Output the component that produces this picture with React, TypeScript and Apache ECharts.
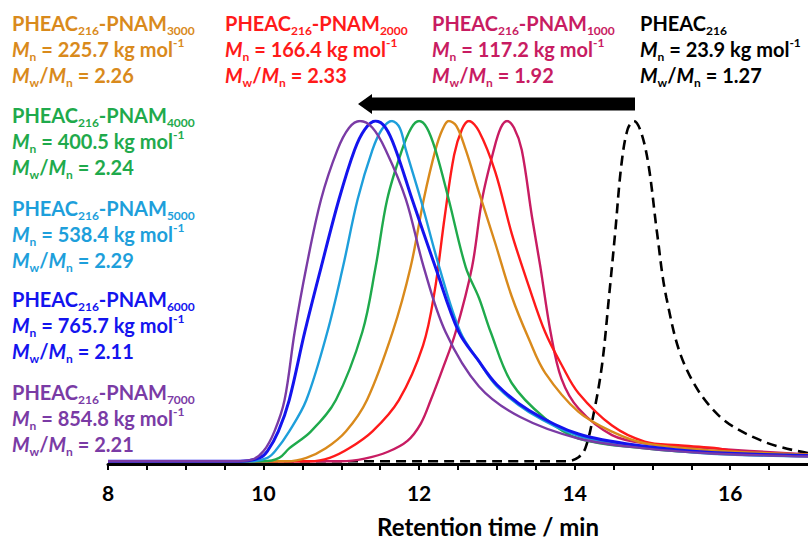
import React, { useEffect, useRef } from 'react';
import * as echarts from 'echarts';

const FONT = 'Lato, "Open Sans", sans-serif';

// ---- label data ----
const sampleDP = ['', '1000', '2000', '3000', '4000', '5000', '6000', '7000'];
const mnValues = ['23.9', '117.2', '166.4', '225.7', '400.5', '538.4', '765.7', '854.8'];
const pdiValues = ['1.27', '1.92', '2.33', '2.26', '2.24', '2.29', '2.11', '2.21'];
const sampleColors = ['#000000', '#C81C62', '#FF1A1A', '#D98A1C', '#1FAA4C', '#1E9FDB', '#1414EE', '#7A3BA5'];

// ---- x-axis ticks ----
const xMin = 8;
const xMax = 17;
const xInterval = 0.5;
const xLabelEvery = 2;

// ---- SEC traces: [retention time (min), normalised signal] ----
const tracePHEAC = [[8, 0], [13.9, 0], [14.05, 0.012], [14.14, 0.04], [14.24, 0.135], [14.35, 0.28], [14.44, 0.48], [14.52, 0.67], [14.6, 0.87], [14.68, 0.975], [14.76, 1.0], [14.85, 0.97], [14.95, 0.87], [15.06, 0.67], [15.18, 0.48], [15.42, 0.28], [15.85, 0.135], [16.44, 0.057], [17, 0.024]];
const trace1000 = [[8, 0], [11.0, 0], [11.3, 0.008], [11.6, 0.028], [11.85, 0.06], [12.02, 0.11], [12.15, 0.18], [12.3, 0.27], [12.47, 0.38], [12.68, 0.57], [12.81, 0.77], [12.96, 0.915], [13.05, 0.98], [13.13, 1.0], [13.22, 0.98], [13.32, 0.915], [13.45, 0.72], [13.56, 0.57], [13.69, 0.38], [13.83, 0.243], [14.05, 0.155], [14.48, 0.077], [14.9, 0.053], [15.76, 0.038], [17, 0.02]];
const trace2000 = [[8, 0], [10.6, 0], [10.85, 0.01], [11.1, 0.038], [11.4, 0.088], [11.74, 0.18], [12.05, 0.34], [12.2, 0.5], [12.33, 0.72], [12.45, 0.9], [12.55, 0.975], [12.64, 1.0], [12.77, 0.97], [12.98, 0.85], [13.19, 0.67], [13.41, 0.515], [13.62, 0.38], [13.84, 0.28], [14.05, 0.2], [14.48, 0.105], [14.9, 0.058], [15.33, 0.047], [15.76, 0.04], [16.19, 0.026], [17, 0.018]];
const trace3000 = [[8, 0], [10.3, 0], [10.55, 0.01], [10.8, 0.038], [11.06, 0.088], [11.33, 0.18], [11.66, 0.38], [11.89, 0.57], [12.06, 0.77], [12.21, 0.915], [12.3, 0.975], [12.38, 1.0], [12.48, 0.985], [12.6, 0.915], [12.77, 0.79], [12.98, 0.64], [13.19, 0.485], [13.41, 0.36], [13.62, 0.26], [14.05, 0.145], [14.48, 0.087], [14.9, 0.053], [15.76, 0.032], [17, 0.02]];
const trace4000 = [[8, 0], [10.0, 0], [10.2, 0.01], [10.33, 0.038], [10.61, 0.088], [10.93, 0.18], [11.27, 0.38], [11.44, 0.57], [11.59, 0.77], [11.78, 0.915], [11.9, 0.98], [12.0, 1.0], [12.1, 0.98], [12.21, 0.915], [12.38, 0.77], [12.6, 0.57], [12.77, 0.48], [12.92, 0.38], [13.19, 0.23], [13.62, 0.126], [14.05, 0.067], [14.9, 0.038], [15.76, 0.024], [17, 0.016]];
const trace5000 = [[8, 0], [9.85, 0], [10.05, 0.01], [10.15, 0.03], [10.33, 0.088], [10.55, 0.18], [10.82, 0.38], [11.02, 0.57], [11.21, 0.77], [11.4, 0.915], [11.52, 0.975], [11.65, 1.0], [11.75, 0.98], [11.83, 0.915], [12.02, 0.77], [12.26, 0.57], [12.53, 0.38], [12.78, 0.29], [13.0, 0.22], [13.41, 0.145], [14.05, 0.075], [14.9, 0.04], [15.76, 0.022], [17, 0.014]];
const trace6000 = [[8, 0], [9.7, 0], [9.95, 0.01], [10.05, 0.03], [10.19, 0.088], [10.33, 0.18], [10.53, 0.38], [10.74, 0.57], [10.97, 0.77], [11.17, 0.915], [11.3, 0.975], [11.44, 1.0], [11.57, 0.98], [11.7, 0.915], [11.91, 0.77], [12.21, 0.57], [12.51, 0.38], [12.75, 0.3], [13.0, 0.225], [13.41, 0.15], [14.05, 0.08], [14.9, 0.044], [15.76, 0.026], [17, 0.017]];
const trace7000 = [[8, 0], [9.6, 0], [9.85, 0.005], [10.0, 0.03], [10.14, 0.088], [10.27, 0.18], [10.4, 0.38], [10.55, 0.57], [10.74, 0.77], [10.95, 0.915], [11.1, 0.98], [11.24, 1.0], [11.4, 0.98], [11.57, 0.915], [11.83, 0.77], [12.06, 0.57], [12.34, 0.38], [12.77, 0.22], [13.3, 0.13], [14.05, 0.067], [14.9, 0.038], [15.76, 0.023], [17, 0.014]];

const traces = [tracePHEAC, trace1000, trace2000, trace3000, trace4000, trace5000, trace6000, trace7000];

// label block positions (top-left) per sample
const labelPos = [[640, 10], [432, 10], [225, 10], [12, 10], [12, 102], [12, 195], [12, 286], [12, 379]];

function richFor(color: string) {
  const base = { fontFamily: FONT, fontWeight: 'bold', fill: color };
  return {
    b: { ...base, fontSize: 20, lineHeight: 26 },
    i: { ...base, fontSize: 20, lineHeight: 26, fontStyle: 'italic' },
    sub: { ...base, fontSize: 12, lineHeight: 12, verticalAlign: 'bottom' },
    sup: { ...base, fontSize: 12, lineHeight: 20, verticalAlign: 'top' },
  };
}

function labelText(i: number) {
  const l1 = sampleDP[i] ? `{b|PHEAC}{sub|216}{b|-PNAM}{sub|${sampleDP[i]}}` : `{b|PHEAC}{sub|216}`;
  const l2 = `{i|M}{sub|n}{b| = ${mnValues[i]} kg mol}{sup|-1}`;
  const l3 = `{i|M}{sub|w}{b|/}{i|M}{sub|n}{b| = ${pdiValues[i]}}`;
  return `${l1}\n${l2}\n${l3}`;
}

export default function App() {
  const ref = useRef<HTMLDivElement>(null);
  useEffect(() => {
    document.body.style.margin = '0';
    const chart = echarts.init(ref.current!, null, { renderer: 'svg' });
    const series: any[] = traces.map((d, i) => ({
      type: 'line',
      data: d,
      symbol: 'none',
      showSymbol: false,
      smooth: 0.35,
      z: 2 + i,
      lineStyle: {
        color: sampleColors[i],
        width: i === 0 ? 2.6 : (i === 6 ? 3 : 2.4),
        type: i === 0 ? [10, 6] : 'solid',
      },
    }));
    const labels = sampleColors.map((c, i) => ({
      type: 'text',
      x: labelPos[i][0],
      y: labelPos[i][1],
      style: {
        text: labelText(i),
        rich: richFor(c),
        fill: c,
        font: `bold 20px ${FONT}`,
      },
    }));
    chart.setOption({
      animation: false,
      backgroundColor: '#ffffff',
      grid: { left: 108, top: 121, width: 702, height: 343 },
      xAxis: {
        type: 'value',
        min: xMin,
        max: xMax,
        interval: xInterval,
        axisLine: { onZero: false, lineStyle: { color: '#000', width: 3 } },
        axisTick: { show: true, length: 6, lineStyle: { color: '#000', width: 2 } },
        splitLine: { show: false },
        axisLabel: {
          formatter: (v: number) => (v % xLabelEvery === 0 ? String(v) : ''),
          color: '#000',
          fontFamily: FONT,
          fontWeight: 'bold',
          fontSize: 21,
          margin: 18,
          showMaxLabel: false,
        },
      },
      yAxis: { type: 'value', min: -0.008, max: 1, show: false },
      series,
      graphic: [
        ...labels,
        {
          type: 'polygon',
          shape: { points: [[358, 104], [372, 94], [372, 97.5], [635, 97.5], [635, 110.5], [372, 110.5], [372, 114]] },
          style: { fill: '#000' },
        },
        {
          type: 'text',
          x: 488,
          y: 526,
          style: {
            text: 'Retention time / min',
            font: `bold 24px ${FONT}`,
            fill: '#000',
            align: 'center',
            verticalAlign: 'middle',
          },
        },
      ],
    });
    return () => chart.dispose();
  }, []);
  return <div ref={ref} style={{ width: 808, height: 540 }} />;
}
